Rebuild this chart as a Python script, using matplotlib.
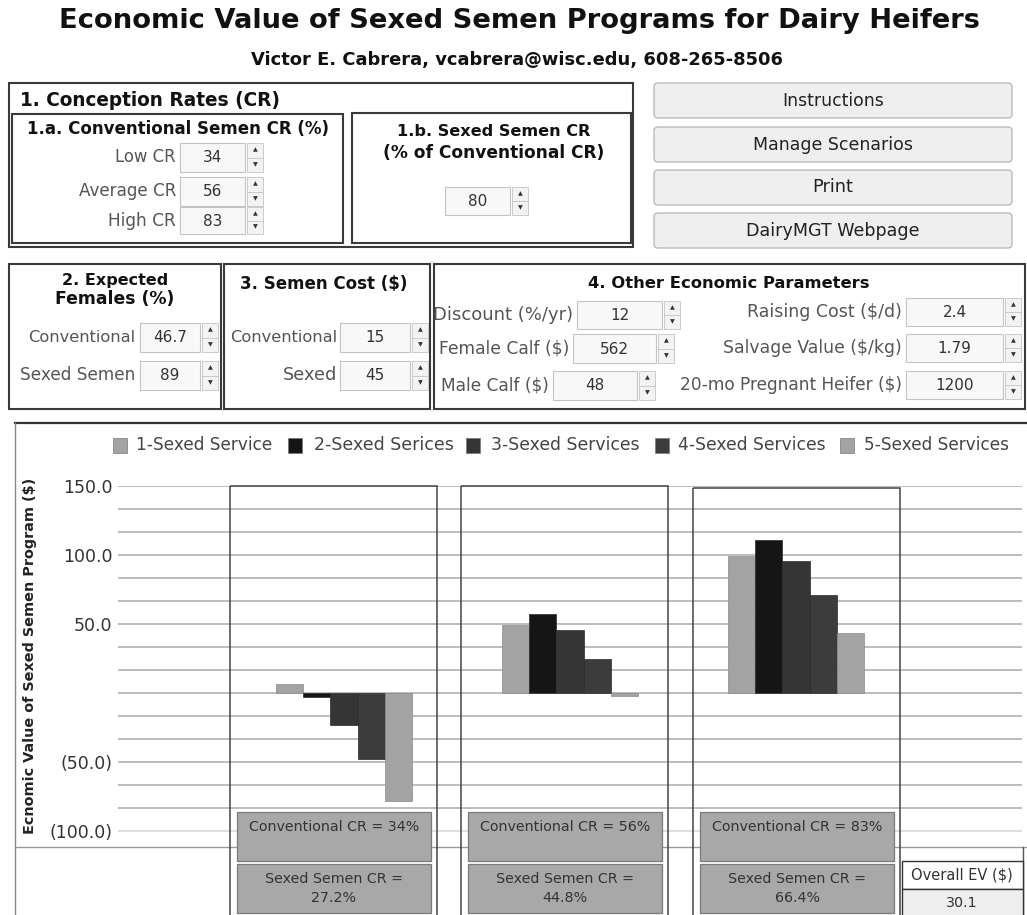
import matplotlib
matplotlib.use("Agg")
import matplotlib.pyplot as plt
from matplotlib.patches import Rectangle, FancyBboxPatch
import numpy as np

# ------------------------------------------------------------------ data
title = "Economic Value of Sexed Semen Programs for Dairy Heifers"
author = "Victor E. Cabrera, vcabrera@wisc.edu, 608-265-8506"

conv_cr_labels = ["Low CR", "Average CR", "High CR"]
conv_cr = [34, 56, 83]
sexed_cr_pct = 80
sexed_cr = [27.2, 44.8, 66.4]

females_labels = ["Conventional", "Sexed Semen"]
females_values = ["46.7", "89"]
cost_labels = ["Conventional", "Sexed"]
cost_values = ["15", "45"]
econ_left_labels = ["Discount (%/yr)", "Female Calf ($)", "Male Calf ($)"]
econ_left_values = ["12", "562", "48"]
econ_right_labels = ["Raising Cost ($/d)", "Salvage Value ($/kg)", "20-mo Pregnant Heifer ($)"]
econ_right_values = ["2.4", "1.79", "1200"]
buttons = ["Instructions", "Manage Scenarios", "Print", "DairyMGT Webpage"]

series_names = ["1-Sexed Service", "2-Sexed Serices", "3-Sexed Services",
                "4-Sexed Services", "5-Sexed Services"]
series_colors = ["#a3a3a3", "#151515", "#353535", "#3c3c3c", "#a3a3a3"]
ev_service1 = [6.3, 49.5, 99.5]
ev_service2 = [-3.0, 57.5, 111.1]
ev_service3 = [-23.0, 45.9, 95.7]
ev_service4 = [-48.3, 24.2, 71.3]
ev_service5 = [-78.3, -2.4, 43.5]
overall_ev = 30.1

ytick_values = [150, 100, 50, -50, -100]
ytick_labels = ["150.0", "100.0", "50.0", "(50.0)", "(100.0)"]
y_label = "Ecnomic Value of Sexed Semen Program ($)"

# ------------------------------------------------------------------ figure
W, H = 1027, 915
fig = plt.figure(figsize=(W / 100, H / 100), dpi=100)
fig.patch.set_facecolor("white")
renderer = fig.canvas.get_renderer()

ui = fig.add_axes([0, 0, 1, 1], zorder=0)
ui.set_xlim(0, W)
ui.set_ylim(H, 0)
ui.axis("off")

FONT = "DejaVu Sans"


def fit(ax, x, y, s, width, ha="center", va="center", weight="normal",
        color="#222222", rotation=0):
    t = ax.text(x, y, s, fontsize=10, ha=ha, va=va, fontweight=weight,
                color=color, rotation=rotation, family=FONT)
    bb = t.get_window_extent(renderer)
    w = bb.height if rotation == 90 else bb.width
    t.set_fontsize(10 * width / w)
    return t


def rect(ax, x0, y0, x1, y1, fc="none", ec="#3a3a3a", lw=1.0, z=2):
    ax.add_patch(Rectangle((x0, y0), x1 - x0, y1 - y0, facecolor=fc,
                           edgecolor=ec, linewidth=lw, zorder=z))


def spin(x0, y0, x1, y1, val):
    rect(ui, x0, y0, x1, y1, fc="#f8f8f8", ec="#c4c4c4", lw=0.8)
    ui.text((x0 + x1) / 2, (y0 + y1) / 2 + 0.5, val, ha="center", va="center",
            fontsize=11, color="#333333", family=FONT, zorder=3)
    s0, s1 = x1 + 2, x1 + 18
    rect(ui, s0, y0, s1, y1, fc="#f3f3f3", ec="#c4c4c4", lw=0.6)
    ym = (y0 + y1) / 2
    ui.plot([s0, s1], [ym, ym], color="#c4c4c4", lw=0.6, zorder=3)
    ui.text((s0 + s1) / 2, (y0 + ym) / 2, "\u25b2", ha="center", va="center",
            fontsize=4.5, color="#333333", zorder=3)
    ui.text((s0 + s1) / 2, (ym + y1) / 2, "\u25bc", ha="center", va="center",
            fontsize=4.5, color="#333333", zorder=3)


# ------------------------------------------------------------------ header
fit(ui, 519, 21, title, 926, weight="bold", color="#111111")
fit(ui, 517, 60, author, 531, weight="bold", color="#111111")

# panel 1
rect(ui, 9, 83, 633, 247, lw=1.5)
fit(ui, 20, 100, "1. Conception Rates (CR)", 262, ha="left", weight="bold", color="#111111")
rect(ui, 12, 114, 343, 243, lw=1.5)
fit(ui, 178, 129, "1.a. Conventional Semen CR (%)", 303, weight="bold", color="#111111")
cr_rows = [(143, 172), (177, 206), (207, 234)]
cr_widths = [61, 98, 68]
for lab, val, (y0, y1), w in zip(conv_cr_labels, conv_cr, cr_rows, cr_widths):
    fit(ui, 176, (y0 + y1) / 2, lab, w, ha="right", color="#555555")
    spin(180, y0, 245, y1, str(val))
rect(ui, 352, 113, 631, 243, lw=1.5)
fit(ui, 494, 131, "1.b. Sexed Semen CR", 194, weight="bold", color="#111111")
fit(ui, 494, 153, "(% of Conventional CR)", 221, weight="bold", color="#111111")
spin(445, 187, 510, 215, str(sexed_cr_pct))

# buttons
btn_rows = [(83, 118), (127, 162), (170, 205), (213, 248)]
btn_widths = [101, 159, 41, 173]
for lab, (y0, y1), w in zip(buttons, btn_rows, btn_widths):
    ui.add_patch(FancyBboxPatch((654, y0), 358, y1 - y0,
                                boxstyle="round,pad=0,rounding_size=4",
                                facecolor="#efefef", edgecolor="#b4b4b4",
                                linewidth=0.9, zorder=2))
    fit(ui, 833, (y0 + y1) / 2, lab, w, color="#222222")

# panel 2
rect(ui, 9, 264, 221, 409, lw=1.5)
fit(ui, 115, 281, "2. Expected", 106, weight="bold", color="#111111")
fit(ui, 115, 299, "Females (%)", 120, weight="bold", color="#111111")
for lab, val, (y0, y1), w in zip(females_labels, females_values,
                                 [(323, 352), (361, 390)], [107, 115]):
    fit(ui, 135, (y0 + y1) / 2, lab, w, ha="right", color="#555555")
    spin(140, y0, 200, y1, val)

# panel 3
rect(ui, 224, 264, 430, 409, lw=1.5)
fit(ui, 324, 284, "3. Semen Cost ($)", 168, weight="bold", color="#111111")
for lab, val, (y0, y1), w in zip(cost_labels, cost_values,
                                 [(323, 352), (361, 390)], [107, 54]):
    fit(ui, 337, (y0 + y1) / 2, lab, w, ha="right", color="#555555")
    spin(340, y0, 410, y1, val)

# panel 4
rect(ui, 434, 264, 1025, 409, lw=1.5)
fit(ui, 729, 283, "4. Other Economic Parameters", 282, weight="bold", color="#111111")
left_boxes = [(577, 301, 662, 329), (573, 334, 656, 363), (553, 371, 637, 400)]
left_widths = [140, 131, 109]
for lab, val, (x0, y0, x1, y1), w in zip(econ_left_labels, econ_left_values,
                                         left_boxes, left_widths):
    fit(ui, x0 - 4, (y0 + y1) / 2, lab, w, ha="right", color="#555555")
    spin(x0, y0, x1, y1, val)
right_boxes = [(906, 298, 1003, 326), (906, 334, 1003, 362), (906, 371, 1003, 399)]
right_widths = [154, 179, 223]
for lab, val, (x0, y0, x1, y1), w in zip(econ_right_labels, econ_right_values,
                                         right_boxes, right_widths):
    fit(ui, x0 - 4, (y0 + y1) / 2, lab, w, ha="right", color="#555555")
    spin(x0, y0, x1, y1, val)

# chart frame
ui.plot([15, W], [423, 423], color="#333333", lw=1.6, zorder=2)
ui.plot([15, 15], [423, H], color="#888888", lw=1.0, zorder=2)
ui.plot([15, W], [847, 847], color="#999999", lw=1.0, zorder=2)

# legend
sq_x = [113, 288, 466, 655, 840]
lab_x = [136, 314, 491, 678, 864]
lab_w = [136, 138, 147, 146, 144]
for name, col, sx, lx, lw_ in zip(series_names, series_colors, sq_x, lab_x, lab_w):
    rect(ui, sx, 438, sx + 14, 453, fc=col, ec="#777777", lw=0.5)
    fit(ui, lx, 445, name, lw_, ha="left", color="#444444")

fit(ui, 30, 656, y_label, 355, weight="bold", color="#222222", rotation=90)

# ------------------------------------------------------------------ bar chart
px_per_unit = (830.7 - 486) / 250.0
ax = fig.add_axes([118 / W, 1 - 847 / H, 904 / W, 361 / H], zorder=1)
ax.patch.set_alpha(0)
ax.set_xlim(0, 4)
ax.set_ylim(150 - 361 / px_per_unit, 150)
for sp in ax.spines.values():
    sp.set_visible(False)

grid_vals = np.linspace(150, -100, 16)
for v in grid_vals:
    ax.axhline(v, color="#ababab" if v > -99 else "#d6d6d6", lw=1.1, zorder=0)
ax.set_yticks(ytick_values)
ax.set_yticklabels(ytick_labels, fontsize=12.5, color="#333333", family=FONT)
ax.tick_params(axis="y", length=0, pad=4)
ax.set_xticks([])

series = [ev_service1, ev_service2, ev_service3, ev_service4, ev_service5]
group_x = np.arange(1, len(conv_cr) + 1)
bw = 0.12
for i, (vals, col) in enumerate(zip(series, series_colors)):
    ax.bar(group_x + (i - 2) * bw, vals, width=bw, color=col,
           edgecolor="#8a8a8a" if col == "#a3a3a3" else "#2a2a2a",
           linewidth=0.5, zorder=2)

# ------------------------------------------------------------------ overlays
ov = fig.add_axes([0, 0, 1, 1], zorder=2)
ov.set_xlim(0, W)
ov.set_ylim(H, 0)
ov.axis("off")
ov.patch.set_alpha(0)

box_left = [230, 461, 693]
box_top = [486, 486, 488]
for bx, bt, c, s in zip(box_left, box_top, conv_cr, sexed_cr):
    rect(ov, bx, bt, bx + 207, H + 5, ec="#444444", lw=1.1)
    lx = bx + 7
    rect(ov, lx, 812, lx + 194, 861, fc="#a8a8a8", ec="#7a7a7a", lw=0.9)
    rect(ov, lx, 864, lx + 194, 913, fc="#a8a8a8", ec="#7a7a7a", lw=0.9)
    ov.text(lx + 97, 827, f"Conventional CR = {c}%", ha="center", va="center",
            fontsize=10.3, color="#333333", family=FONT, zorder=3)
    ov.text(lx + 97, 879, "Sexed Semen CR =", ha="center", va="center",
            fontsize=10.3, color="#333333", family=FONT, zorder=3)
    ov.text(lx + 97, 898, f"{s}%", ha="center", va="center",
            fontsize=10.3, color="#333333", family=FONT, zorder=3)

ov.plot([1023, 1023], [847, H], color="#555555", lw=1.0, zorder=2)
rect(ov, 902, 861, 1023, 889, fc="white", ec="#333333", lw=1.0)
rect(ov, 902, 889, 1023, H + 5, fc="#eeeeee", ec="#333333", lw=1.0)
fit(ov, 962, 875, "Overall EV ($)", 102, color="#333333")
ov.text(962, 903, f"{overall_ev}", ha="center", va="center", fontsize=10.3,
        color="#333333", family=FONT, zorder=3)

fig.savefig("out.png", dpi=100)
